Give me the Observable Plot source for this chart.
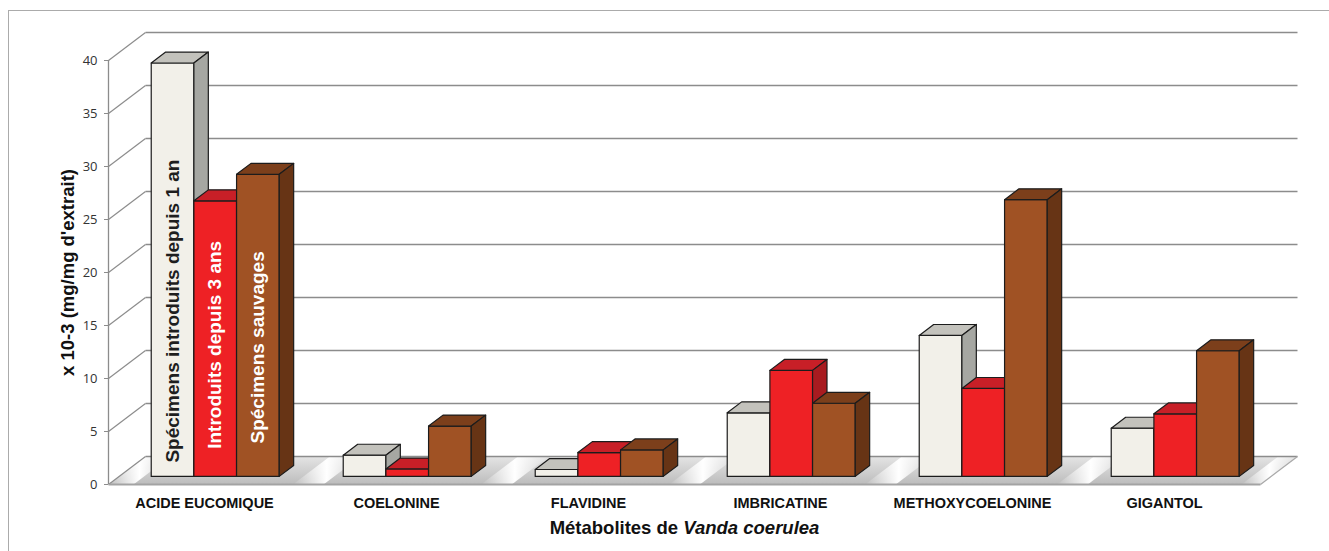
<!DOCTYPE html>
<html><head><meta charset="utf-8">
<script src="https://cdn.jsdelivr.net/npm/d3@7"></script>
<script src="https://cdn.jsdelivr.net/npm/@observablehq/plot@0.6"></script>
<style>
body{margin:0;background:#fff;}
#wrap{position:relative;width:1329px;height:551px;overflow:hidden;}
#frame{position:absolute;left:8px;top:10px;width:1400px;height:700px;border:1.5px solid #ababab;box-sizing:border-box;pointer-events:none}
</style></head><body><div id="wrap"><div id="chart"></div><div id="frame"></div></div>
<script>
// ---- data ----
const categories = ["ACIDE EUCOMIQUE", "COELONINE", "FLAVIDINE", "IMBRICATINE", "METHOXYCOELONINE", "GIGANTOL"];
const seriesNames = ["Spécimens introduits depuis 1 an", "Introduits depuis 3 ans", "Spécimens sauvages"];
const introduits1an = [39.0, 2.0, 0.65, 6.0, 13.3, 4.55];
const introduits3ans = [26.0, 0.7, 2.25, 10.0, 8.3, 5.9];
const sauvages = [28.5, 4.75, 2.5, 6.9, 26.1, 11.85];
const yTicks = [0, 5, 10, 15, 20, 25, 30, 35, 40];
const labelStart = [1.3, 2.6, 3.1];
const yTitle = "x 10-3 (mg/mg d'extrait)";
const xTitle = "Métabolites de Vanda coerulea";

// ---- styles ----
const faceColors = [
  {front: "#f2f0e9", top: "#c3c2bc", side: "#a6a7a2", text: "#1e1e1e"},
  {front: "#ee2125", top: "#c81f27", side: "#a81b20", text: "#ffffff"},
  {front: "#a05224", top: "#7c3f1b", side: "#673415", text: "#ffffff"}
];
const allSeries = [introduits1an, introduits3ans, sauvages];

// oblique projection: depth z in [0,1]
const DX = 37 / 192, DY = 28 / 10.6;
const Z0 = 0.29, Z1 = 0.68;
const BW = 2 / 9, G0 = 1 / 6;
const P = (x, v, z) => ({x: x + z * DX, y: v + z * DY});

// faces
const faces = [];
let fid = 0;
categories.forEach((c, i) => {
  allSeries.forEach((vals, s) => {
    const v = vals[i];
    const x0 = i + G0 + s * BW, x1 = x0 + BW;
    const col = faceColors[s];
    const add = (pts, fill) => { const id = fid++; pts.forEach(p => faces.push({id, fill, ...p})); };
    add([P(x0, 0, Z0), P(x1, 0, Z0), P(x1, v, Z0), P(x0, v, Z0)], col.front);
    add([P(x0, v, Z0), P(x1, v, Z0), P(x1, v, Z1), P(x0, v, Z1)], col.top);
    add([P(x1, 0, Z0), P(x1, v, Z0), P(x1, v, Z1), P(x1, 0, Z1)], col.side);
  });
});

const floor = [P(0, 0, 0), P(6, 0, 0), P(6, 0, 1), P(0, 0, 1)];
const stripes = [];
[0.05, 1.04, 2.02, 3.0, 4.02, 5.02, 5.98].forEach((c, k) => {
  const a = Math.max(0, c - 0.08), b = Math.min(6, c + 0.08);
  [P(a, 0, 0), P(b, 0, 0), P(b, 0, 1), P(a, 0, 1)].forEach(p => stripes.push({id: k, ...p}));
});

const barLabels = seriesNames.map((name, s) => {
  const x0 = 0 + G0 + s * BW;
  const p = P(x0 + BW / 2, labelStart[s], Z0);
  return {name, x: p.x, y: p.y, color: faceColors[s].text};
});

const defs = () => {
  const d = d3.create("svg:defs");
  const g = d.append("linearGradient").attr("id", "floorGrad").attr("x1", 0).attr("y1", 0).attr("x2", 0).attr("y2", 1);
  g.append("stop").attr("offset", 0).attr("stop-color", "#e4e4e4");
  g.append("stop").attr("offset", 1).attr("stop-color", "#bcbcbc");
  const s = d.append("linearGradient").attr("id", "stripeGrad").attr("x1", 0).attr("y1", 0).attr("x2", 1).attr("y2", 0);
  s.append("stop").attr("offset", 0).attr("stop-color", "#fff").attr("stop-opacity", 0);
  s.append("stop").attr("offset", 0.5).attr("stop-color", "#fff").attr("stop-opacity", 1);
  s.append("stop").attr("offset", 1).attr("stop-color", "#fff").attr("stop-opacity", 0);
  return d.node();
};

const chart = Plot.plot({
  width: 1329, height: 551,
  marginLeft: 108, marginRight: 69, marginTop: 60, marginBottom: 67,
  x: {domain: [0, 6], axis: null},
  y: {domain: [0, 40], axis: null},
  color: {type: "identity"},
  style: {fontFamily: "'Liberation Sans', Arial, sans-serif", background: "transparent"},
  marks: [
    defs,
    // floor
    Plot.line(floor, {x: "x", y: "y", curve: "linear-closed", fill: "url(#floorGrad)", stroke: "none"}),
    Plot.line(stripes, {x: "x", y: "y", z: "id", curve: "linear-closed", fill: "url(#stripeGrad)", stroke: "none"}),
    // back wall gridlines
    Plot.link(yTicks, {x1: v => P(0, v, 1).x, y1: v => P(0, v, 1).y, x2: v => P(6, v, 1).x, y2: v => P(6, v, 1).y, stroke: "#8c8c8c", strokeWidth: 1.4}),
    // side wall lines
    Plot.link(yTicks, {x1: v => P(0, v, 0).x, y1: v => P(0, v, 0).y, x2: v => P(0, v, 1).x, y2: v => P(0, v, 1).y, stroke: "#8c8c8c", strokeWidth: 1.2}),
    // floor front & right edges
    Plot.link([0], {x1: () => P(0, 0, 0).x, y1: () => 0, x2: () => P(6, 0, 0).x, y2: () => 0, stroke: "#a3a3a3", strokeWidth: 2.2}),
    Plot.link([0], {x1: () => P(6, 0, 0).x, y1: () => 0, x2: () => P(6, 0, 1).x, y2: () => P(6, 0, 1).y, stroke: "#a8a8a8", strokeWidth: 1.2}),
    // y axis line
    Plot.ruleX([0], {y1: 0, y2: 40, stroke: "#8c8c8c", strokeWidth: 1.3}),
    Plot.axisY({ticks: yTicks, tickSize: 4, tickPadding: 7, stroke: "#8c8c8c", fill: "#333", fontSize: 13, fontFamily: "'Open Sans', sans-serif", label: null}),
    // bars
    Plot.line(faces, {x: "x", y: "y", z: "id", fill: "fill", stroke: "#1c1c1c", strokeWidth: 1.2, curve: "linear-closed", strokeLinejoin: "round"}),
    // in-bar labels
    Plot.text(barLabels, {x: "x", y: "y", text: "name", fill: "color", rotate: -90, textAnchor: "start", lineAnchor: "middle", fontSize: 19, fontWeight: "bold"}),
    // category labels
    Plot.text(categories, {x: (d, i) => i + 0.5, y: () => 0, text: d => d, dy: 19, lineAnchor: "middle", fontSize: 14.5, fontWeight: "bold", fill: "#111"}),
    // axis titles
    Plot.text([yTitle], {frameAnchor: "left", dx: -40, rotate: -90, text: d => d, textAnchor: "middle", fontSize: 18.5, fontWeight: "bold", fill: "#111", lineAnchor: "middle"}),
    Plot.text([xTitle], {frameAnchor: "bottom", dy: 44, text: d => d, textAnchor: "middle", fontSize: 18.5, fontWeight: "bold", fill: "#111", lineAnchor: "middle"})
  ]
});

// italicise the species name in the x title (kept as real text)
d3.select(chart).selectAll("text").filter(function() { return this.textContent === xTitle; }).each(function() {
  const t = d3.select(this);
  t.text(null);
  t.append("tspan").text("Métabolites de ");
  t.append("tspan").attr("font-style", "italic").text("Vanda coerulea");
});

document.getElementById("chart").append(chart);
</script>
</body></html>
